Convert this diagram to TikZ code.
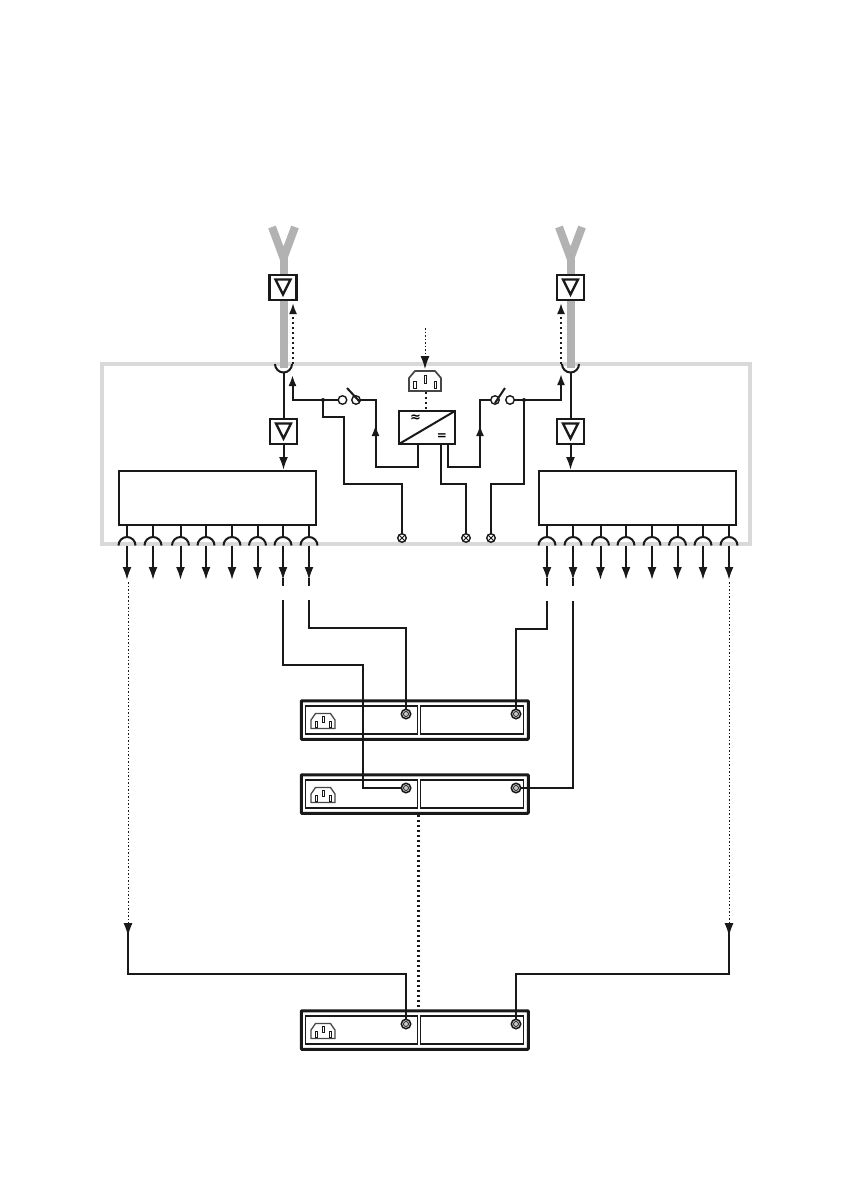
\documentclass[tikz,border=0pt]{standalone}
\usepackage{fontspec}
\usetikzlibrary{arrows.meta}

\newfontfamily\psufont{DejaVu Sans Bold}

\definecolor{framegray}{gray}{0.85}
\definecolor{antgray}{gray}{0.70}
\definecolor{inkblack}{gray}{0.1}

\tikzset{
    wire/.style={draw=inkblack, line width=2pt},
    thinwire/.style={draw=inkblack, line width=1.05pt},
    tipdown/.style={-{Latex[length=13pt,width=9pt]}},
    tipup/.style={-{Latex[length=11pt,width=8pt]}},
    dotwire/.style={draw=inkblack, line width=1pt, dash pattern=on 1.5pt off 2pt},
    boldot/.style={draw=inkblack, line width=2.2pt, dash pattern=on 2pt off 3pt},
    block/.style={draw=inkblack, line width=2.5pt, inner sep=0, outer sep=0, minimum width=197, minimum height=54},
    ampbox/.style={draw=inkblack, line width=2.4pt, fill=white, inner sep=0, outer sep=0, minimum width=27, minimum height=25},
    contact/.style={circle, draw=inkblack, line width=1.4pt, fill=white, inner sep=0, outer sep=0, minimum size=8.5},
    lamp/.style={circle, draw=inkblack, line width=1.4pt, fill=white, inner sep=0, outer sep=0, minimum size=8.5,
        path picture={\draw[line width=.9pt] (path picture bounding box.north west) -- (path picture bounding box.south east)
            (path picture bounding box.north east) -- (path picture bounding box.south west);}},
    rackport/.style={circle, draw=inkblack, line width=1.5pt, fill=gray!45, inner sep=0, outer sep=0, minimum size=9.5},
    rackhalf/.style={draw=inkblack, line width=1.3pt, inner sep=0, outer sep=0, minimum height=28},
    rack/.style={draw=inkblack, line width=3pt, rounded corners=.8pt, inner sep=0, outer sep=0, minimum width=227, minimum height=38.5},
    plug/.pic={
        \draw[inkblack!80, line width=1.7pt, fill=white] (-16,10) -- (-16,-3) -- (-10,-10) -- (10,-10) -- (16,-3) -- (16,10) -- cycle;
        \draw[inkblack, line width=1pt] (-11.5,0) rectangle (-9,7) (-1,-6) rectangle (1,2) (9,0) rectangle (11.5,7);
    },
    smallplug/.pic={
        \draw[inkblack!80, line width=1.3pt, fill=white] (-12,7.5) -- (-12,-1) -- (-7.5,-7.5) -- (7.5,-7.5) -- (12,-1) -- (12,7.5) -- cycle;
        \draw[inkblack, line width=1pt] (-8,0) rectangle (-6,6) (-1,-5) rectangle (1,1) (6,0) rectangle (8,6);
    },
    antenna/.pic={
        \draw[antgray, line width=8pt] (-11.5,-31) -- (0,0) -- (11.5,-31);
        \draw[antgray, line width=8pt] (0,0) -- (0,110);
    },
    downtri/.pic={
        \draw[inkblack, line width=2.4pt, line join=miter] (-7.5,-7.5) -- (7.5,-7.5) -- (0,7.5) -- cycle;
    }
}

\begin{document}
\begin{tikzpicture}[x=1pt, y=-1pt]
    \useasboundingbox (0,0) rectangle (841,1191);

    % housing
    \draw[framegray, line width=4pt] (102,364) rectangle (750,544);

    % antennas
    \pic at (283.5,258) {antenna};
    \pic at (570.5,258) {antenna};

    \node[ampbox] (ampTopL) at (283,287.5) {};
    \node[ampbox] (ampTopR) at (570.5,287.5) {};
    \pic at (283,287) {downtri};
    \pic at (570.5,287) {downtri};

    \node[ampbox, line width=1.9pt] (ampLowL) at (283.5,431.5) {};
    \node[ampbox, line width=1.9pt] (ampLowR) at (570.5,431.5) {};
    \pic at (283.5,431) {downtri};
    \pic at (570.5,431) {downtri};

    % blocks
    \node[block] (blockL) at (217.5,498) {};
    \node[block] (blockR) at (637.5,498) {};

    % power supply
    \node[draw=inkblack, line width=2pt, inner sep=0, outer sep=0, minimum width=56, minimum height=33] (psu) at (427,427.5) {};
    \draw[wire] (psu.south west) -- (psu.north east);
    \node[inner sep=0, font=\psufont\fontsize{13}{13}\selectfont] (psuAc) at (415.5,418.5) {≈};
    \node[inner sep=0, font=\psufont\fontsize{12}{12}\selectfont] (psuDc) at (442,436.5) {=};
    \pic at (425,381) {plug};
    \coordinate (plugTop) at (425,369);
    \coordinate (mainsIn) at (425,328);
    \coordinate (plugBot) at (426,392);
    \draw[dotwire, tipdown] (mainsIn) -- (plugTop);
    \draw[boldot] (plugBot) -- (psu.north -| plugBot);

    % antenna junctions
    \coordinate (jointL) at (283.5,364);
    \coordinate (jointR) at (570.5,364);
    \draw[inkblack, line width=2pt] (275,364) arc (180:0:8.5);
    \draw[inkblack, line width=2pt] (562,364) arc (180:0:8.5);
    \draw[boldot, line width=1.9pt, tipup] (293,364) -- (293,303);
    \draw[boldot, line width=1.9pt, tipup] (561,364) -- (561,303);
    \draw[wire] (283.5,372.5) -- (ampLowL.north);
    \draw[wire] (570.5,372.5) -- (ampLowR.north);
    \draw[wire, tipdown] (ampLowL.south) -- (283.5,470);
    \draw[wire, tipdown] (ampLowR.south) -- (570.5,470);

    % switches
    \node[contact] (swLa) at (342.5,400) {};
    \node[contact] (swLb) at (356,400) {};
    \node[contact] (swRa) at (495,400) {};
    \node[contact] (swRb) at (510,400) {};
    \draw[wire] (347,388) -- (360,402);
    \draw[wire] (495,403) -- (505,388);

    % lamps
    \node[lamp] (lampA) at (402,538) {};
    \node[lamp] (lampB) at (466,538) {};
    \node[lamp] (lampC) at (491,538) {};

    \coordinate (tapL) at (323,400);
    \coordinate (tapR) at (524,400);
    \draw[wire, tipup] (swLa.west) -- (292.5,400) -- (292.5,375);
    \draw[wire, tipup] (swRb.east) -- (561,400) -- (561,374);
    \draw[wire] (tapL) -- (323,417) -- (344,417) -- (344,484) -- (402,484) -- (lampA.north);
    \draw[wire] (tapR) -- (524,484) -- (491,484) -- (lampC.north);
    \draw[wire] (441,444) -- (441,484) -- (466,484) -- (lampB.north);
    \draw[wire] (swLb.east) -- (375.5,400) -- (375.5,467) -- (418,467) -- (418,444);
    \draw[wire] (448,444) -- (448,467) -- (480,467) -- (480,400) -- (swRa.west);
    \draw[wire, tipup] (375.5,440) -- (375.5,425);
    \draw[wire, tipup] (480,440) -- (480,425);
    \fill[inkblack] (tapL) circle (2) (tapR) circle (2);

    % outputs
    \foreach \name/\x in {A/127,B/153,C/180.5,D/206,E/232,F/257.5,G/283,H/309,
                          I/547,J/573,K/600.5,M/626,N/652,P/677.5,Q/703,R/729} {
        \coordinate (out\name) at (\x,545.5);
        \draw[inkblack, line width=2pt] (\x-8.5,545.5) arc (180:360:8.5);
        \draw[wire] (\x,525) -- (\x,537);
        \draw[wire, tipdown] (out\name) -- (\x,580);
    }

    % racks
    \foreach \name/\y in {One/720,Two/794,Three/1030} {
        \node[rack] (rack\name) at (414.75,\y) {};
        \node[rackhalf, minimum width=112] (rack\name L) at (361.25,\y) {};
        \node[rackhalf, minimum width=103] (rack\name R) at (471.75,\y) {};
        \node[rackport] (port\name L) at (406,\y-6) {};
        \node[rackport] (port\name R) at (516,\y-6) {};
        \node[circle, draw=inkblack, line width=.7pt, minimum size=5, inner sep=0] (dot\name L) at (port\name L) {};
        \node[circle, draw=inkblack, line width=.7pt, minimum size=5, inner sep=0] (dot\name R) at (port\name R) {};
        \pic at (323,\y+1) {smallplug};
    }

    % links
    \draw[wire] (309,578) -- (309,586);
    \draw[wire] (283,578) -- (283,586);
    \draw[wire] (547,578) -- (547,586);
    \draw[wire] (573,578) -- (573,586);
    \draw[wire] (309,600) -- (309,628) -- (406,628) -- (portOneL.north);
    \draw[wire] (283,600) -- (283,665) -- (362.5,665) -- (362.5,788) -- (portTwoL.west);
    \draw[wire] (547,601) -- (547,629) -- (516,629) -- (portOneR.north);
    \draw[wire] (573,601) -- (573,788) -- (portTwoR.east);

    % far rack
    \draw[dotwire] (128,582) -- (128,598);
    \draw[dotwire, tipdown] (128,600) -- (128,936);
    \draw[dotwire, tipdown] (729,582) -- (729,936);
    \draw[thinwire] (128,930) -- (128,974) -- (406,974) -- (portThreeL.north);
    \draw[thinwire] (729,930) -- (729,974) -- (516,974) -- (portThreeR.north);
    \coordinate (dotTop) at (418.5,815);
    \draw[boldot] (dotTop) -- (418.5,1008);
\end{tikzpicture}
\end{document}
